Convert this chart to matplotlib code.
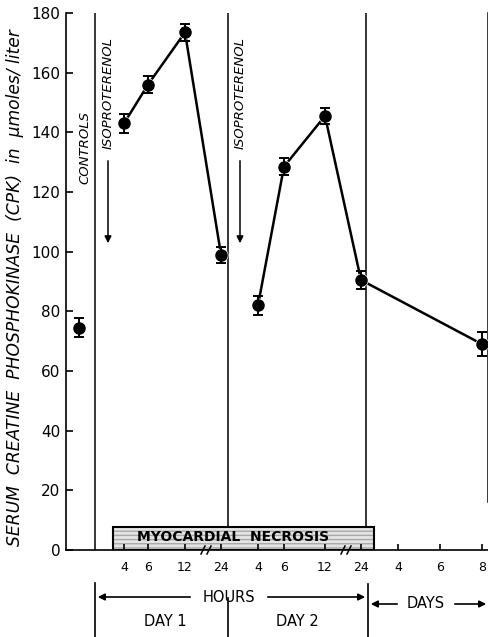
import numpy as np
import matplotlib.pyplot as plt
from matplotlib.patches import Rectangle

# CPK values (umoles/liter)
ctrl_cpk = [74.5]
ctrl_err = [3.2]

day1_hours = [4, 6, 12, 24]
day1_cpk = [143, 156, 173.5, 99]
day1_err = [3.2, 2.8, 2.8, 2.7]

day2_hours = [4, 6, 12, 24]
day2_cpk = [82, 128.5, 145.5, 90.5]
day2_err = [3.2, 2.9, 2.7, 3.0]

after_days = [8]
after_cpk = [69]
after_err = [4]

hour_ticks = [4, 6, 12, 24]
day_ticks = [4, 6, 8]
y_ticks = [0, 20, 40, 60, 80, 100, 120, 140, 160, 180]

# layout: x position (pixel-like axis units) of each time on the broken axis
W, H = 489, 637
ctrl_x = 79
day1_pos = {4: 124, 6: 148, 12: 185, 24: 221}
day2_pos = {4: 258, 6: 284, 12: 325, 24: 361}
days_pos = {4: 398, 6: 440, 8: 482}

fig = plt.figure(figsize=(W / 100, H / 100), dpi=100)
ax = fig.add_axes([66 / W, (H - 550) / H, (W - 66) / W, 537 / H])
ax.set_xlim(66, W)
ax.set_ylim(0, 180)

for s in ['top', 'right']:
    ax.spines[s].set_visible(False)
ax.spines['left'].set_linewidth(1.2)
ax.spines['bottom'].set_linewidth(1.2)

ax.set_yticks(y_ticks)
ax.set_yticklabels([str(v) for v in y_ticks], fontsize=11)
xt = [day1_pos[h] for h in hour_ticks] + [day2_pos[h] for h in hour_ticks] + [days_pos[d] for d in day_ticks]
xl = [str(h) for h in hour_ticks] * 2 + [str(d) for d in day_ticks]
ax.set_xticks(xt)
ax.set_xticklabels(xl, fontsize=9)
ax.tick_params(axis='y', direction='in', length=5, width=1.2, pad=4)
ax.tick_params(axis='x', direction='in', length=4, width=1.2, pad=8)

x1 = [day1_pos[h] for h in day1_hours]
x2 = [day2_pos[h] for h in day2_hours] + [days_pos[d] for d in after_days]
y2 = day2_cpk + after_cpk
e2 = day2_err + after_err

mk = dict(marker='o', ms=8.5, color='black', mec='white', mew=1.5, ls='none', zorder=4)
ax.plot(x1, day1_cpk, color='black', lw=1.8, zorder=3)
ax.plot(x2, y2, color='black', lw=1.8, zorder=3)
ax.plot([ctrl_x], ctrl_cpk, **mk)
ax.plot(x1, day1_cpk, **mk)
ax.plot(x2, y2, **mk)
ax.errorbar([ctrl_x] + x1 + x2, ctrl_cpk + day1_cpk + y2, yerr=ctrl_err + day1_err + e2,
            fmt='none', ecolor='black', elinewidth=1.4, capsize=3.5, capthick=1.4, zorder=5)
ax.plot([ctrl_x] + x1 + x2, ctrl_cpk + day1_cpk + y2, marker='o', ms=8, color='black', ls='none', zorder=6)

# vertical separators
ax.plot([95, 95], [0, 180], color='black', lw=1.1, zorder=2)
ax.plot([228, 228], [7.7, 180], color='black', lw=1.1, zorder=2)
ax.plot([366, 366], [7.7, 180], color='black', lw=1.1, zorder=2)
ax.plot([488, 488], [16, 180], color='black', lw=1.1, zorder=2, clip_on=False)

# necrosis bar
ax.add_patch(Rectangle((113, 0), 261, 7.7, facecolor='#e4e4e4', edgecolor='#a8a8a8',
                       hatch='----', lw=0, zorder=1))
ax.add_patch(Rectangle((113, 0), 261, 7.7, facecolor='none', edgecolor='black', lw=1.5, zorder=2))
ax.text(233, 4.4, 'MYOCARDIAL  NECROSIS', ha='center', va='center', fontsize=10,
        fontweight='bold', zorder=3)

# overlay in pixel coordinates for annotations
ov = fig.add_axes([0, 0, 1, 1])
ov.set_xlim(0, W)
ov.set_ylim(H, 0)
ov.axis('off')
ov.patch.set_visible(False)

ov.text(15, 288, 'SERUM  CREATINE  PHOSPHOKINASE  (CPK)  in  \u03bcmoles/ liter', rotation=90,
        ha='center', va='center', fontsize=12.3, style='italic')
ov.text(85, 147, 'CONTROLS', rotation=90, ha='center', va='center', fontsize=9.5, style='italic')
for x in [108, 240]:
    ov.text(x, 93, 'ISOPROTERENOL', rotation=90, ha='center', va='center', fontsize=9.5, style='italic')
    ov.annotate('', xy=(x, 246), xytext=(x, 158),
                arrowprops=dict(arrowstyle='-|>', color='black', lw=1.1, mutation_scale=10))

# axis break marks
for bx in [203, 343]:
    for dx in [0, 6]:
        ov.plot([bx + dx - 2, bx + dx + 2], [554, 546], color='black', lw=1.1)

# lower time annotations
for x, y0 in [(95, 583), (228, 598), (368, 584)]:
    ov.plot([x, x], [y0, H], color='black', lw=1.2)
ov.text(229, 597, 'HOURS', ha='center', va='center', fontsize=10.5)
ov.annotate('', xy=(95, 597), xytext=(193, 597),
            arrowprops=dict(arrowstyle='-|>', color='black', lw=1.2, mutation_scale=10))
ov.annotate('', xy=(368, 597), xytext=(265, 597),
            arrowprops=dict(arrowstyle='-|>', color='black', lw=1.2, mutation_scale=10))
ov.text(426, 604, 'DAYS', ha='center', va='center', fontsize=10.5)
ov.annotate('', xy=(368, 604), xytext=(400, 604),
            arrowprops=dict(arrowstyle='-|>', color='black', lw=1.2, mutation_scale=10))
ov.annotate('', xy=(489, 604), xytext=(452, 604),
            arrowprops=dict(arrowstyle='-|>', color='black', lw=1.2, mutation_scale=10))
ov.text(165, 622, 'DAY 1', ha='center', va='center', fontsize=10.5)
ov.text(297, 622, 'DAY 2', ha='center', va='center', fontsize=10.5)

fig.savefig('out.png', dpi=100)
